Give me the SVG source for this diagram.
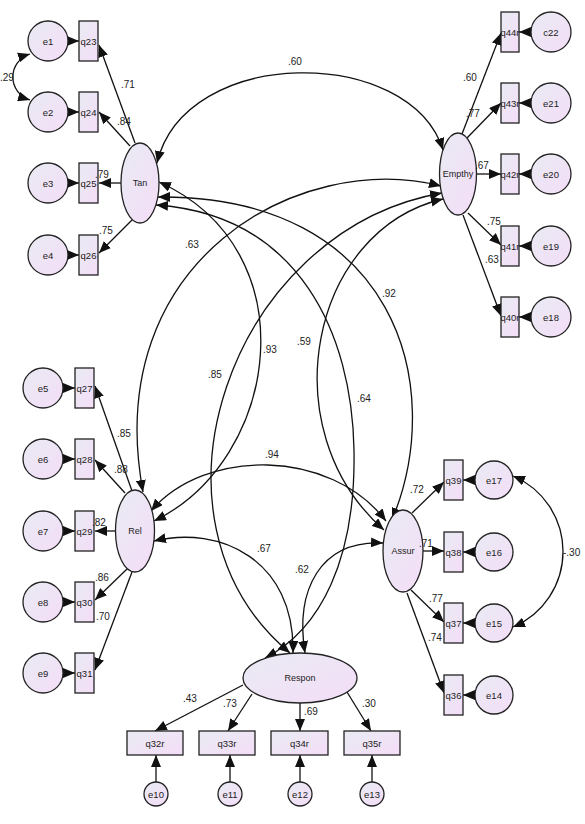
<svg xmlns="http://www.w3.org/2000/svg" width="585" height="824" viewBox="0 0 585 824">
<defs>
<linearGradient id="g" x1="0" y1="0" x2="1" y2="1">
<stop offset="0" stop-color="#e9ebf3"/>
<stop offset="1" stop-color="#f4ddf8"/>
</linearGradient>
<marker id="a" viewBox="0 0 12 10" refX="12" refY="5" markerWidth="12" markerHeight="10" markerUnits="userSpaceOnUse" orient="auto-start-reverse">
<path d="M0,0L12,5L0,10z" fill="#111"/>
</marker>
<style>
.n{fill:url(#g);stroke:#222;stroke-width:1.3}
.t{font-family:"Liberation Sans",Arial,sans-serif;font-size:9.5px;fill:#222;text-anchor:middle;dominant-baseline:central}
.tl{font-family:"Liberation Sans",Arial,sans-serif;font-size:9px;fill:#222;text-anchor:middle;dominant-baseline:central}
.l{font-family:"Liberation Sans",Arial,sans-serif;font-size:10px;fill:#222}
.c{fill:none;stroke:#111;stroke-width:1.3;marker-end:url(#a)}
.d{fill:none;stroke:#111;stroke-width:1.3;marker-start:url(#a);marker-end:url(#a)}
</style>
</defs>
<rect width="585" height="824" fill="#fff"/>

<g id="connectors">
<path class="c" d="M135,143L99,45"/>
<path class="c" d="M130,146L99,112"/>
<path class="c" d="M121,183L99,183"/>
<path class="c" d="M132,220L99,253"/>
<path class="c" d="M68,41L79,41"/>
<path class="c" d="M68,112L79,112"/>
<path class="c" d="M68,183L79,183"/>
<path class="c" d="M68,255L79,255"/>
<path class="c" d="M132,491L95,386"/>
<path class="c" d="M125,493L95,460"/>
<path class="c" d="M116,531L95,531"/>
<path class="c" d="M127,569L95,600"/>
<path class="c" d="M132,572L95,670"/>
<path class="c" d="M63,388L75,388"/>
<path class="c" d="M63,459L75,459"/>
<path class="c" d="M63,531L75,531"/>
<path class="c" d="M63,602L75,602"/>
<path class="c" d="M63,673L75,673"/>
<path class="c" d="M462,134L501,33"/>
<path class="c" d="M467,138L501,103"/>
<path class="c" d="M477,174L501,174"/>
<path class="c" d="M468,213L501,245"/>
<path class="c" d="M463,215L501,316"/>
<path class="c" d="M531,32L519,32"/>
<path class="c" d="M531,103L519,103"/>
<path class="c" d="M531,174L519,174"/>
<path class="c" d="M531,246L519,246"/>
<path class="c" d="M531,317L519,317"/>
<path class="c" d="M412,513L444,482"/>
<path class="c" d="M423,551L444,551"/>
<path class="c" d="M411,590L444,622"/>
<path class="c" d="M407,593L444,693"/>
<path class="c" d="M475,480L463,480"/>
<path class="c" d="M475,552L463,552"/>
<path class="c" d="M475,623L463,623"/>
<path class="c" d="M475,695L463,695"/>
<path class="c" d="M243,685L155,731"/>
<path class="c" d="M252,694L228,731"/>
<path class="c" d="M300,703L300,731"/>
<path class="c" d="M347,692L371,731"/>
<path class="c" d="M156,782L156,755"/>
<path class="c" d="M230,782L230,755"/>
<path class="c" d="M300,782L300,755"/>
<path class="c" d="M372,782L372,755"/>
<path class="d" d="M30,54A24,24 0 0 0 30,100"/>
<path class="d" d="M513,476A82,82 0 0 1 513,627"/>
<path class="d" d="M157,163C185,45 410,45 443,150"/>
<path class="d" d="M159,182C310,250 280,460 154,521"/>
<path class="d" d="M158,197C395,195 448,385 392,520"/>
<path class="d" d="M156,205C300,215 352,335 354,450C356,560 320,630 265,658"/>
<path class="d" d="M441,186C300,150 100,260 143,492"/>
<path class="d" d="M442,193C230,230 130,520 290,653"/>
<path class="d" d="M443,199C310,230 270,430 384,530"/>
<path class="d" d="M151,511C205,448 330,448 386,521"/>
<path class="d" d="M154,541C220,525 295,560 293,653"/>
<path class="d" d="M383,543C320,540 295,590 305,653"/>
</g>

<g id="Tan"><ellipse class="n" cx="140" cy="183" rx="19" ry="40"/><text class="tl" x="140" y="183">Tan</text></g>
<g id="Empthy"><ellipse class="n" cx="458" cy="174" rx="18.5" ry="41"/><text class="tl" x="458" y="174">Empthy</text></g>
<g id="Rel"><ellipse class="n" cx="135" cy="531" rx="19.5" ry="41"/><text class="tl" x="135" y="531">Rel</text></g>
<g id="Assur"><ellipse class="n" cx="403" cy="551" rx="20" ry="41"/><text class="tl" x="403" y="551">Assur</text></g>
<g id="Respon"><ellipse class="n" cx="300" cy="678" rx="57" ry="25"/><text class="tl" x="300" y="678">Respon</text></g>

<g id="q23"><rect class="n" x="79" y="21" width="19" height="40"/><text class="t" x="88.5" y="41">q23</text></g>
<g id="q24"><rect class="n" x="79" y="92" width="19" height="40"/><text class="t" x="88.5" y="112">q24</text></g>
<g id="q25"><rect class="n" x="79" y="163" width="19" height="40"/><text class="t" x="88.5" y="183">q25</text></g>
<g id="q26"><rect class="n" x="79" y="235" width="19" height="40"/><text class="t" x="88.5" y="255">q26</text></g>
<g id="e1"><circle class="n" cx="48" cy="41" r="20"/><text class="t" x="48" y="41">e1</text></g>
<g id="e2"><circle class="n" cx="48" cy="112" r="20"/><text class="t" x="48" y="112">e2</text></g>
<g id="e3"><circle class="n" cx="48" cy="183" r="20"/><text class="t" x="48" y="183">e3</text></g>
<g id="e4"><circle class="n" cx="48" cy="255" r="20"/><text class="t" x="48" y="255">e4</text></g>

<g id="q27"><rect class="n" x="75" y="368" width="19" height="40"/><text class="t" x="84.5" y="388">q27</text></g>
<g id="q28"><rect class="n" x="75" y="439" width="19" height="40"/><text class="t" x="84.5" y="459">q28</text></g>
<g id="q29"><rect class="n" x="75" y="511" width="19" height="40"/><text class="t" x="84.5" y="531">q29</text></g>
<g id="q30"><rect class="n" x="75" y="582" width="19" height="40"/><text class="t" x="84.5" y="602">q30</text></g>
<g id="q31"><rect class="n" x="75" y="653" width="19" height="40"/><text class="t" x="84.5" y="673">q31</text></g>
<g id="e5"><circle class="n" cx="43" cy="388" r="20"/><text class="t" x="43" y="388">e5</text></g>
<g id="e6"><circle class="n" cx="43" cy="459" r="20"/><text class="t" x="43" y="459">e6</text></g>
<g id="e7"><circle class="n" cx="43" cy="531" r="20"/><text class="t" x="43" y="531">e7</text></g>
<g id="e8"><circle class="n" cx="43" cy="602" r="20"/><text class="t" x="43" y="602">e8</text></g>
<g id="e9"><circle class="n" cx="43" cy="673" r="20"/><text class="t" x="43" y="673">e9</text></g>

<g id="q44r"><rect class="n" x="501" y="12" width="18" height="40"/><text class="t" x="510" y="32">q44r</text></g>
<g id="q43r"><rect class="n" x="501" y="83" width="18" height="40"/><text class="t" x="510" y="103">q43r</text></g>
<g id="q42r"><rect class="n" x="501" y="154" width="18" height="40"/><text class="t" x="510" y="174">q42r</text></g>
<g id="q41r"><rect class="n" x="501" y="226" width="18" height="40"/><text class="t" x="510" y="246">q41r</text></g>
<g id="q40r"><rect class="n" x="501" y="297" width="18" height="40"/><text class="t" x="510" y="317">q40r</text></g>
<g id="e22"><circle class="n" cx="551" cy="32" r="20"/><text class="t" x="551" y="32">c22</text></g>
<g id="e21"><circle class="n" cx="551" cy="103" r="20"/><text class="t" x="551" y="103">e21</text></g>
<g id="e20"><circle class="n" cx="551" cy="174" r="20"/><text class="t" x="551" y="174">e20</text></g>
<g id="e19"><circle class="n" cx="551" cy="246" r="20"/><text class="t" x="551" y="246">e19</text></g>
<g id="e18"><circle class="n" cx="551" cy="317" r="20"/><text class="t" x="551" y="317">e18</text></g>

<g id="q39"><rect class="n" x="444" y="460" width="19" height="40"/><text class="t" x="453.5" y="480">q39</text></g>
<g id="q38"><rect class="n" x="444" y="532" width="19" height="40"/><text class="t" x="453.5" y="552">q38</text></g>
<g id="q37"><rect class="n" x="444" y="603" width="19" height="40"/><text class="t" x="453.5" y="623">q37</text></g>
<g id="q36"><rect class="n" x="444" y="675" width="19" height="40"/><text class="t" x="453.5" y="695">q36</text></g>
<g id="e17"><circle class="n" cx="494" cy="480" r="19"/><text class="t" x="494" y="480">e17</text></g>
<g id="e16"><circle class="n" cx="494" cy="552" r="19"/><text class="t" x="494" y="552">e16</text></g>
<g id="e15"><circle class="n" cx="494" cy="623" r="19"/><text class="t" x="494" y="623">e15</text></g>
<g id="e14"><circle class="n" cx="494" cy="695" r="19"/><text class="t" x="494" y="695">e14</text></g>

<g id="q32r"><rect class="n" x="127" y="731" width="56" height="24"/><text class="t" x="155" y="743">q32r</text></g>
<g id="q33r"><rect class="n" x="199" y="731" width="56" height="24"/><text class="t" x="227" y="743">q33r</text></g>
<g id="q34r"><rect class="n" x="271" y="731" width="57" height="24"/><text class="t" x="299.5" y="743">q34r</text></g>
<g id="q35r"><rect class="n" x="344" y="731" width="56" height="24"/><text class="t" x="372" y="743">q35r</text></g>
<g id="e10"><circle class="n" cx="156" cy="794" r="12"/><text class="t" x="156" y="794">e10</text></g>
<g id="e11"><circle class="n" cx="230" cy="794" r="12"/><text class="t" x="230" y="794">e11</text></g>
<g id="e12"><circle class="n" cx="300" cy="794" r="12"/><text class="t" x="300" y="794">e12</text></g>
<g id="e13"><circle class="n" cx="372" cy="794" r="12"/><text class="t" x="372" y="794">e13</text></g>

<g id="labels">
<text class="l" x="0" y="81">.29</text>
<text class="l" x="121" y="88">.71</text>
<text class="l" x="117" y="125">.84</text>
<text class="l" x="95" y="178">.79</text>
<text class="l" x="99" y="234">.75</text>
<text class="l" x="117" y="437">.85</text>
<text class="l" x="114" y="473">.88</text>
<text class="l" x="92" y="526">.82</text>
<text class="l" x="95" y="581">.86</text>
<text class="l" x="96" y="620">.70</text>
<text class="l" x="463" y="81">.60</text>
<text class="l" x="466" y="117">.77</text>
<text class="l" x="475" y="169">.67</text>
<text class="l" x="487" y="225">.75</text>
<text class="l" x="485" y="263">.63</text>
<text class="l" x="410" y="493">.72</text>
<text class="l" x="419" y="547">.71</text>
<text class="l" x="429" y="602">.77</text>
<text class="l" x="428" y="641">.74</text>
<text class="l" x="563" y="556">-.30</text>
<text class="l" x="183" y="702">.43</text>
<text class="l" x="223" y="707">.73</text>
<text class="l" x="304" y="715">.69</text>
<text class="l" x="362" y="707">.30</text>
<text class="l" x="288" y="65">.60</text>
<text class="l" x="185" y="248">.63</text>
<text class="l" x="263" y="353">.93</text>
<text class="l" x="297" y="345">.59</text>
<text class="l" x="208" y="378">.85</text>
<text class="l" x="357" y="402">.64</text>
<text class="l" x="382" y="297">.92</text>
<text class="l" x="265" y="458">.94</text>
<text class="l" x="257" y="552">.67</text>
<text class="l" x="295" y="573">.62</text>
</g>
</svg>
